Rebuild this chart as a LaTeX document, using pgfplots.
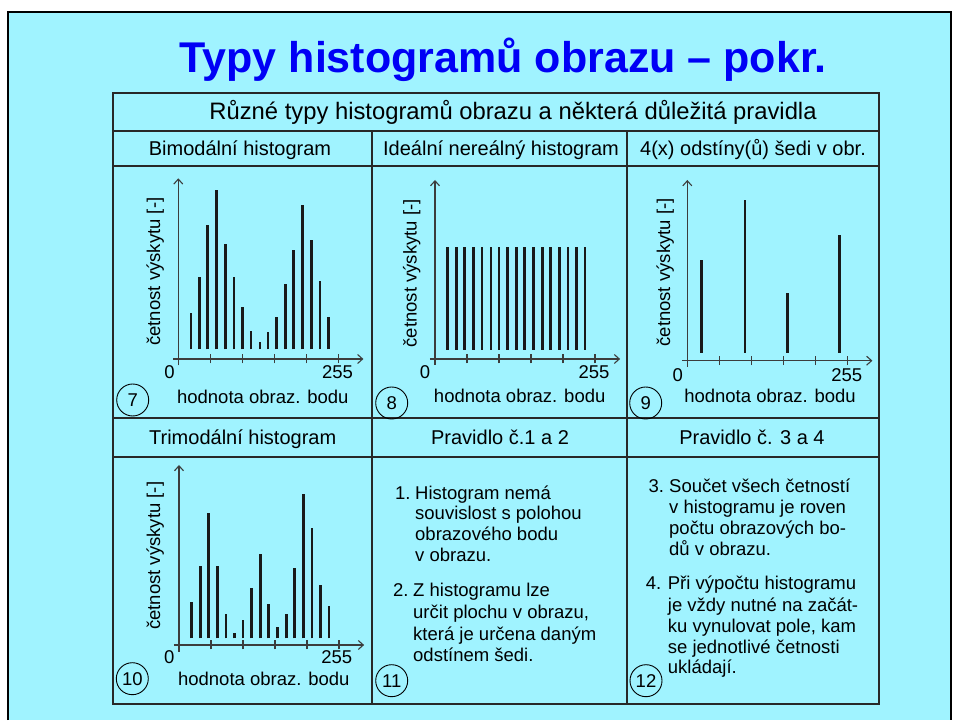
\documentclass[border=0pt]{standalone}
\usepackage{fontspec}
\setmainfont{Liberation Sans}
\usepackage{pgfplots}
\pgfplotsset{compat=1.18}
\usetikzlibrary{arrows.meta}
\definecolor{bg}{RGB}{160,243,255}
\definecolor{ttl}{RGB}{0,0,245}
\definecolor{ln}{RGB}{40,40,40}
\definecolor{ax}{RGB}{60,60,60}
\definecolor{barc}{RGB}{25,25,25}
\newcommand\fs[1]{\fontsize{#1pt}{#1pt}\selectfont}
\pgfplotsset{hist/.style={hide axis, clip=false, anchor=origin, enlargelimits=false,
  x=0.62745pt, y=1pt, xmin=-12, xmax=300, ymin=-20, ymax=180}}
\tikzset{axl/.style={draw=ax, line width=1.1pt},
  arr/.style={axl, -{Straight Barb[length=5pt,width=9pt]}},
  rt/.style={inner sep=0pt, font=\fs{18.5}},
  circ/.style={draw=black, circle, line width=0.9pt, minimum size=32pt, inner sep=0pt, font=\fs{18.5}}}
\newcommand\histaxes[5]{%
  \draw[arr] (axis cs:-8,#1) -- (axis cs:295,#1);
  \draw[arr] (axis cs:0,#4) -- (axis cs:0,#5);
  \draw[axl] (axis cs:51,#2) -- (axis cs:51,#3);
  \draw[axl] (axis cs:102,#2) -- (axis cs:102,#3);
  \draw[axl] (axis cs:153,#2) -- (axis cs:153,#3);
  \draw[axl] (axis cs:204,#2) -- (axis cs:204,#3);
  \draw[axl] (axis cs:255,#2) -- (axis cs:255,#3);
}
\newcommand\tl[3]{\node[rt, anchor=base west] at (#1,720-#2) {#3};}
\newcommand\ct[4]{\node[inner sep=0pt, anchor=base, font=\fs{#4}] at (#1,720-#2) {#3};}
\begin{document}
\begin{tikzpicture}[x=1pt,y=1pt]
\useasboundingbox (0,0) rectangle (955,720);
\fill[white] (0,0) rectangle (955,720);
\fill[bg] (8,0) rectangle (951,708);
\draw[black, line width=2.5pt] (8,0) -- (8,708) -- (951,708) -- (951,0);

% title
\node[anchor=base, inner sep=0pt, font=\bfseries\fs{43}, text=ttl] at (503,720-73) {Typy histogramů obrazu – pokr.};

% table
\draw[ln, line width=1.2pt] (113,720-131) -- (879,720-131);
\draw[ln, line width=1.2pt] (113,720-166) -- (879,720-166);
\draw[ln, line width=1.2pt] (113,720-418) -- (879,720-418);
\draw[ln, line width=1.2pt] (113,720-457) -- (879,720-457);
\draw[ln, line width=1.2pt] (372,720-131) -- (372,720-704);
\draw[ln, line width=1.2pt] (627,720-131) -- (627,720-704);
\draw[ln, line width=2.2pt] (113,720-93) rectangle (879,720-704);

% headers
\ct{513}{120}{Různé typy histogramů obrazu a některá důležitá pravidla}{23.8}
\ct{240}{156}{Bimodální histogram}{20}
\ct{501}{156}{Ideální nereálný histogram}{20}
\ct{753}{156}{4(x) odstíny(ů) šedi v obr.}{20}
\ct{242.7}{445}{Trimodální histogram}{20}
\ct{500}{445}{Pravidlo č.1 a 2}{20}
\ct{752}{445}{Pravidlo č. 3 a 4}{20}

% panel 7: bimodal
\begin{axis}[hist, at={(178.3pt,370.7pt)}]
\histaxes{-9.7}{-14.2}{-5.2}{-16}{171}
\addplot[ycomb, draw=barc, line width=2.7pt, no markers] coordinates {
(20,36) (34,72) (47,124) (61,159) (75,105) (89,72) (102,42) (116,18) (130,7)
(143,17) (157,32) (171,65) (184,99) (198,144) (212,109) (226,68) (239,32)};
\end{axis}

% panel 8: ideal
\begin{axis}[hist, at={(435pt,370pt)}]
\histaxes{-9}{-13.5}{-4.5}{-15}{170}
\addplot[ycomb, draw=barc, line width=2.7pt, no markers] coordinates {
(20,103) (34,103) (47,103) (61,103) (75,103) (89,103) (102,103) (116,103) (130,103)
(143,103) (157,103) (171,103) (184,103) (198,103) (212,103) (226,103) (239,103)};
\end{axis}

% panel 9: four grey levels
\begin{axis}[hist, at={(687.3pt,367.3pt)}]
\histaxes{-8}{-12.5}{-3.5}{-14}{172.7}
\addplot[ycomb, draw=barc, line width=2.9pt, no markers] coordinates {
(23,93) (92,153) (159,60) (242,118)};
\end{axis}

% panel 10: trimodal
\begin{axis}[hist, at={(179pt,81.7pt)}]
\histaxes{-6.7}{-11.2}{-2.2}{-13.4}{173.3}
\addplot[ycomb, draw=barc, line width=2.7pt, no markers] coordinates {
(20,36) (34,72) (47,125) (61,72) (75,24) (89,5) (102,18) (116,50) (130,84)
(143,34) (157,11) (171,24) (184,70) (198,144) (212,110) (226,53) (239,32)};
\end{axis}

% axis texts
\node[rt, rotate=90, anchor=base] at (160,720-271.7) {četnost výskytu [-]};
\node[rt, rotate=90, anchor=base] at (416.7,720-273.3) {četnost výskytu [-]};
\node[rt, rotate=90, anchor=base] at (670,720-272.5) {četnost výskytu [-]};
\node[rt, rotate=90, anchor=base] at (160,720-555.8) {četnost výskytu [-]};

\ct{262.8}{403.3}{hodnota obraz. bodu}{18.5}
\ct{519.7}{402.3}{hodnota obraz. bodu}{18.5}
\ct{770}{402.3}{hodnota obraz. bodu}{18.5}
\ct{263.8}{685.7}{hodnota obraz. bodu}{18.5}

\ct{169.5}{378.3}{0}{18.5}
\ct{337.5}{378.3}{255}{18.5}
\ct{425}{378.3}{0}{18.5}
\ct{594}{378.3}{255}{18.5}
\ct{677.7}{381.7}{0}{18.5}
\ct{846.7}{381.7}{255}{18.5}
\ct{169.3}{663.3}{0}{18.5}
\ct{336.7}{663.3}{255}{18.5}

\node[circ] at (132.7,720-400) {7};
\node[circ] at (391.7,720-403) {8};
\node[circ] at (645.7,720-403) {9};
\node[circ] at (132.3,720-678.7) {10};
\node[circ] at (391.7,720-680.7) {11};
\node[circ] at (646,720-680.7) {12};

% rules 1 and 2
\tl{395}{499.3}{1.}
\tl{415}{499.3}{Histogram nemá}
\tl{415}{519.3}{souvislost s polohou}
\tl{415}{541}{obrazového bodu}
\tl{415}{561.7}{v obrazu.}
\tl{393}{596.7}{2.}
\tl{413}{596.7}{Z histogramu lze}
\tl{413}{618.3}{určit plochu v obrazu,}
\tl{413}{640}{která je určena daným}
\tl{413}{661.7}{odstínem šedi.}

% rules 3 and 4
\tl{648.3}{492.3}{3.}
\tl{669}{492.3}{Součet všech četností}
\tl{669}{514}{v histogramu je roven}
\tl{669}{535}{počtu obrazových bo-}
\tl{669}{556}{dů v obrazu.}
\tl{645.7}{590}{4.}
\tl{667.7}{590}{Při výpočtu histogramu}
\tl{667.7}{611.7}{je vždy nutné na začát-}
\tl{667.7}{632.7}{ku vynulovat pole, kam}
\tl{667.7}{653.3}{se jednotlivé četnosti}
\tl{667.7}{673.3}{ukládají.}
\end{tikzpicture}
\end{document}
